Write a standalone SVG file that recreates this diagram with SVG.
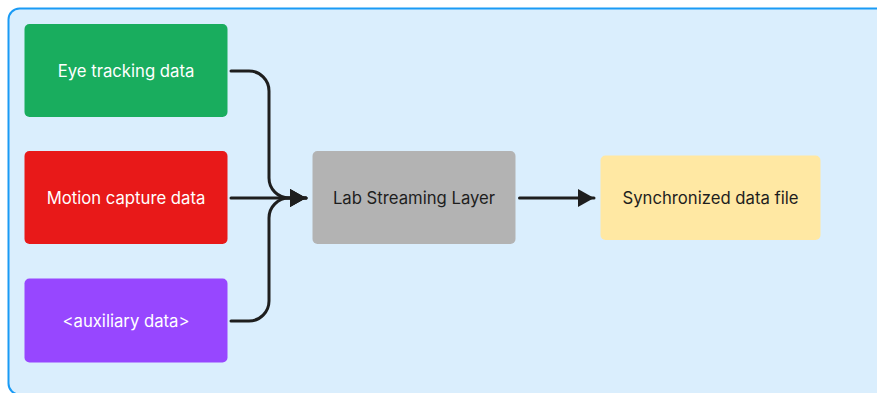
<svg xmlns="http://www.w3.org/2000/svg" width="877" height="393" viewBox="0 0 877 393">
  <style>
    .lbl { font-family: Inter, "Liberation Sans", sans-serif; font-size: 16.7px; text-anchor: middle; dominant-baseline: central; }
    .light { fill: #ffffff; }
    .dark { fill: #1e1e1e; }
    .conn { fill: none; stroke: #1e1e1e; stroke-width: 3; stroke-linecap: round; }
  </style>
  <defs>
    <marker id="arrow" markerUnits="userSpaceOnUse" markerWidth="17" markerHeight="20" refX="16" refY="10" orient="auto">
      <path d="M0,1 L16,10 L0,19 Z" fill="#1e1e1e"/>
    </marker>
  </defs>
  <rect id="container" x="8.5" y="8.5" width="890" height="386" rx="11" fill="#daeefd" stroke="#1a9bf5" stroke-width="2"/>
  <g id="eye">
    <rect x="24.5" y="24" width="203" height="93" rx="5" fill="#19ad5e"/>
    <text class="lbl light" x="126" y="71">Eye tracking data</text>
  </g>
  <g id="motion">
    <rect x="24.5" y="151" width="203" height="93" rx="5" fill="#e81919"/>
    <text class="lbl light" x="126" y="198">Motion capture data</text>
  </g>
  <g id="aux">
    <rect x="24.5" y="278.5" width="203" height="84" rx="5" fill="#9747ff"/>
    <text class="lbl light" x="126" y="321">&lt;auxiliary data&gt;</text>
  </g>
  <g id="lsl">
    <rect x="312.5" y="151" width="203" height="93" rx="5" fill="#b3b3b3"/>
    <text class="lbl dark" x="414" y="198">Lab Streaming Layer</text>
  </g>
  <g id="sync">
    <rect x="600.5" y="155.5" width="220" height="84.5" rx="5" fill="#ffe8a3"/>
    <text class="lbl dark" x="710.5" y="198">Synchronized data file</text>
  </g>
  <g id="connectors">
    <path class="conn" d="M231,71 H249 A20,20 0 0 1 269,91 V178 A20,20 0 0 0 289,198 H306" marker-end="url(#arrow)"/>
    <path class="conn" d="M231,198 H306" marker-end="url(#arrow)"/>
    <path class="conn" d="M231,321 H249 A20,20 0 0 0 269,301 V218 A20,20 0 0 1 289,198 H306" marker-end="url(#arrow)"/>
    <path class="conn" d="M519.5,198 H594" marker-end="url(#arrow)"/>
  </g>
</svg>
